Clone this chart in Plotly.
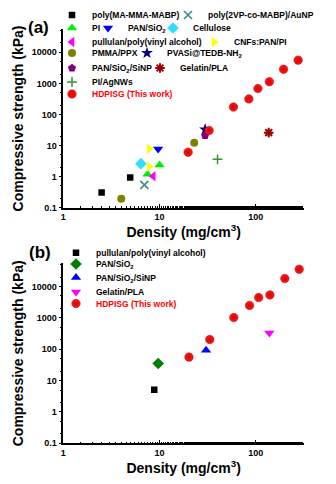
import plotly.graph_objects as go

# ---------------- data: panel (a) ----------------
poly_ma_x = [2.5, 4.95];   poly_ma_y = [0.31, 0.93]
p2vp_x = [6.95];           p2vp_y = [0.54]
pi_x = [7.5, 10.0];        pi_y = [1.2, 2.35]
pansio2_x = [9.65];        pansio2_y = [7.8]
cell_x = [6.4];            cell_y = [2.6]
pull_x = [8.6];            pull_y = [1.03]
cnf_x = [7.8, 7.8];        cnf_y = [7.8, 2.1]
pmma_x = [4.0, 22.9];      pmma_y = [0.195, 12.2]
pvasi_x = [29.7];          pvasi_y = [33]
pansinp_x = [29.7];        pansinp_y = [21]
gel_x = [136];             gel_y = [26]
agnw_x = [40];             agnw_y = [3.6]
hd_a_x = [19.8, 32.7, 58.5, 84.6, 105, 138, 194, 275]
hd_a_y = [6.1, 30.5, 173, 316, 680, 1130, 2850, 5600]

# ---------------- data: panel (b) ----------------
pull_b_x = [8.8];          pull_b_y = [5.1]
pansio2_b_x = [9.67];      pansio2_b_y = [35]
pansinp_b_x = [30.4];      pansinp_b_y = [92]
gel_b_x = [138];           gel_b_y = [330]
hd_b_x = [20.2, 33.2, 59, 86, 107, 140, 200, 282]
hd_b_y = [56, 204, 1020, 2500, 4460, 5400, 18000, 35500]

y_tickvals = [0.1, 1, 10, 100, 1000, 10000]
y_ticktext = ["0.1", "1", "10", "100", "1000", "10000"]
x_tickvals = [1, 10, 100]
x_ticktext = ["1", "10", "100"]

W, H = 336, 484
FONT = "Liberation Sans, Arial, sans-serif"

fig = go.Figure()

# (name, x, y, symbol, color, size, line width for open symbols, panel, legend key pos px)
traces = [
    ("poly(MA-MMA-MABP)", poly_ma_x, poly_ma_y, "square", "#000000", 6.5, None, "a", (72, 15)),
    ("poly(2VP-co-MABP)/AuNP", p2vp_x, p2vp_y, "x-thin-open", "#3d8b8b", 8, 1.6, "a", (188, 15)),
    ("PI", pi_x, pi_y, "triangle-up", "#00ee00", 9, None, "a", (72, 28)),
    ("PAN/SiO<sub>2</sub>", pansio2_x, pansio2_y, "triangle-down", "#0000ff", 9, None, "a", (108, 28)),
    ("Cellulose", cell_x, cell_y, "diamond", "#33ddff", 9, None, "a", (173, 28)),
    ("pullulan/poly(vinyl alcohol)", pull_x, pull_y, "triangle-left", "#ff00ff", 9, None, "a", (72, 42)),
    ("CNFs:PAN/PI", cnf_x, cnf_y, "triangle-right", "#ffff00", 9, None, "a", (214, 42)),
    ("PMMA/PPX", pmma_x, pmma_y, "circle", "#808000", 8, None, "a", (72, 53)),
    ("PVASi@TEDB-NH<sub>2</sub>", pvasi_x, pvasi_y, "star", "#000080", 9, None, "a", (147, 53)),
    ("PAN/SiO<sub>2</sub>/SiNP", pansinp_x, pansinp_y, "pentagon", "#800080", 8.5, None, "a", (72, 68)),
    ("Gelatin/PLA", gel_x, gel_y, "asterisk-open", "#990000", 8, 2.0, "a", (160, 68)),
    ("PI/AgNWs", agnw_x, agnw_y, "cross-thin-open", "#2e9a2e", 7, 1.5, "a", (72, 82)),
    ("HDPISG (This work)", hd_a_x, hd_a_y, "circle", "#ff1a1a", 8.5, None, "a", (72, 94)),
    ("pullulan/poly(vinyl alcohol)", pull_b_x, pull_b_y, "square", "#000000", 6.5, None, "b", (76, 252.7)),
    ("PAN/SiO<sub>2</sub>", pansio2_b_x, pansio2_b_y, "diamond", "#008000", 9, None, "b", (76, 264)),
    ("PAN/SiO<sub>2</sub>/SiNP", pansinp_b_x, pansinp_b_y, "triangle-up", "#0000ff", 9, None, "b", (76, 277.5)),
    ("Gelatin/PLA", gel_b_x, gel_b_y, "triangle-down", "#ff00ff", 9, None, "b", (76, 292)),
    ("HDPISG (This work)", hd_b_x, hd_b_y, "circle", "#ff1a1a", 8.5, None, "b", (76, 303.5)),
]

layout_legends = {}
for i, (name, xs, ys, sym, col, size, lw, panel, (lx, ly)) in enumerate(traces):
    key = "legend" if i == 0 else f"legend{i+1}"
    red = "HDPISG" in name
    if lw is None:
        marker = dict(symbol=sym, color=col, size=size, line=dict(width=0))
        if red:
            marker["gradient"] = dict(type="radial", color="#d00000")
            marker["line"] = dict(width=0.5, color="#c00000")
    else:
        marker = dict(symbol=sym, color=col, size=size, line=dict(width=lw, color=col))
    fig.add_trace(go.Scatter(
        x=xs, y=ys, mode="markers", name=name, marker=marker,
        xaxis="x" if panel == "a" else "x2",
        yaxis="y" if panel == "a" else "y2",
        legend=key, showlegend=True,
    ))
    layout_legends[key] = dict(
        x=(lx - 20) / W, y=1 - ly / H, xanchor="left", yanchor="middle",
        bgcolor="rgba(0,0,0,0)", borderwidth=0,
        font=dict(family=FONT, size=8.5, weight="bold", color="#ff0000" if red else "#000000"),
        orientation="v",
    )

xdom = [63.3 / W, 304 / W]
ya_dom = [1 - 207.7 / H, 1 - 29.3 / H]
yb_dom = [1 - 443.3 / H, 1 - 263.3 / H]

def xaxis(dom, anchor):
    return dict(
        type="log", range=[0, 2.5], domain=dom, anchor=anchor,
        showline=True, linecolor="black", linewidth=1.5, mirror=False,
        showgrid=False, zeroline=False,
        ticks="inside", ticklen=4, tickwidth=1, tickcolor="black",
        tickvals=x_tickvals, ticktext=x_ticktext,
        tickfont=dict(family=FONT, size=9, weight="bold", color="black"),
        minor=dict(ticks="inside", ticklen=2, tickwidth=1, tickcolor="black", showgrid=False),
        title=dict(text="Density (mg/cm<sup>3</sup>)", standoff=2,
                   font=dict(family=FONT, size=14, weight="bold", color="black")),
        automargin=False,
    )

def yaxis(dom, anchor):
    return dict(
        type="log", range=[-1, 4.74], domain=dom, anchor=anchor,
        showline=True, linecolor="black", linewidth=1.5, mirror=False,
        showgrid=False, zeroline=False,
        ticks="outside", ticklen=3, tickwidth=1, tickcolor="black",
        tickvals=y_tickvals, ticktext=y_ticktext,
        tickfont=dict(family=FONT, size=9, weight="bold", color="black"),
        minor=dict(ticks="outside", ticklen=2, tickwidth=1, tickcolor="black", showgrid=False),
        title=dict(text="Compressive strength (kPa)", standoff=5,
                   font=dict(family=FONT, size=14, weight="bold", color="black")),
        automargin=False,
    )

fig.update_layout(
    width=W, height=H,
    margin=dict(l=0, r=0, t=0, b=0),
    paper_bgcolor="white", plot_bgcolor="white",
    xaxis=xaxis(xdom, "y"), yaxis=yaxis(ya_dom, "x"),
    xaxis2=xaxis(xdom, "y2"), yaxis2=yaxis(yb_dom, "x2"),
    annotations=[
        dict(text="(a)", x=26 / W, y=1 - 16 / H, xref="paper", yref="paper",
             showarrow=False, font=dict(family=FONT, size=17, weight="bold", color="black")),
        dict(text="(b)", x=27 / W, y=1 - 252 / H, xref="paper", yref="paper",
             showarrow=False, font=dict(family=FONT, size=17, weight="bold", color="black")),
    ],
    **layout_legends,
)

fig.write_html("out.html")
